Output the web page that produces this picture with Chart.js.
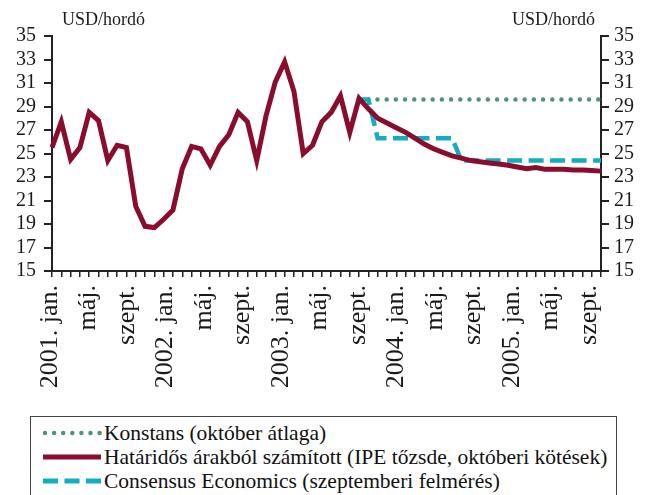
<!DOCTYPE html>
<html>
<head>
<meta charset="utf-8">
<script src="https://cdn.jsdelivr.net/npm/chart.js@4.4.0/dist/chart.umd.min.js"></script>
<style>
  html, body { margin: 0; padding: 0; background: #fff; }
  #wrap { position: relative; width: 647px; height: 495px; overflow: hidden;
          font-family: "Liberation Serif", "Times New Roman", serif; }
  #c { position: absolute; left: 0; top: 0; }
  #legend { position: absolute; left: 30px; top: 416px; width: 587px; height: 90px;
            border: 1px solid #444; box-sizing: border-box; }
  .row { position: absolute; left: 0; width: 100%; height: 24px; font-size: 21.5px;
         line-height: 24px; color: #111; }
  .row svg { position: absolute; left: 11px; top: 1px; }
  .row span { position: absolute; left: 73px; white-space: nowrap; }
</style>
</head>
<body>
<div id="wrap">
  <canvas id="c" width="647" height="412" style="width:647px;height:412px"></canvas>
  <div id="legend">
    <div class="row" style="top:4px">
      <svg width="62" height="22"><line x1="3" y1="11" x2="58" y2="11" stroke="#4e9474" stroke-width="4.5" stroke-dasharray="0 9.1" stroke-linecap="round"/></svg>
      <span>Konstans (október átlaga)</span>
    </div>
    <div class="row" style="top:28px">
      <svg width="62" height="22"><line x1="1" y1="11" x2="59" y2="11" stroke="#8a0d2e" stroke-width="5"/></svg>
      <span>Határidős árakból számított (IPE tőzsde, októberi kötések)</span>
    </div>
    <div class="row" style="top:52px">
      <svg width="62" height="22"><line x1="1" y1="11" x2="59" y2="11" stroke="#12adc5" stroke-width="5" stroke-dasharray="15 6.5"/></svg>
      <span>Consensus Economics (szeptemberi felmérés)</span>
    </div>
  </div>
</div>
<script>
// ── categories ──
var YEARS  = [2001, 2002, 2003, 2004, 2005];
var MONTHS = ['jan.', 'febr.', 'márc.', 'ápr.', 'máj.', 'jún.', 'júl.', 'aug.', 'szept.', 'okt.', 'nov.', 'dec.'];

// data axis: 2001. jan. – 2005. dec.
var dataCats = [];
YEARS.forEach(function(y) {
  MONTHS.forEach(function(m, i) { dataCats.push(i === 0 ? y + '. ' + m : m); });
});
// label axis: 2001. jan. – 2005. szept.
var labelCats = dataCats.slice(0, 57);
var LABEL_EVERY = 4;

// ── series (USD/hordó) ──
var hataridos = [
  25.5, 27.7, 24.5, 25.5, 28.5, 27.8, 24.4, 25.7, 25.5, 20.5, 18.8, 18.7,
  19.4, 20.2, 23.7, 25.6, 25.4, 24.0, 25.6, 26.6, 28.5, 27.7, 24.4, 28.2,
  31.1, 32.8, 30.3, 25.0, 25.7, 27.7, 28.5, 29.9, 26.8, 29.7, 28.8, 28.0,
  27.6, 27.2, 26.8, 26.3, 25.8, 25.4, 25.1, 24.8, 24.6, 24.4, 24.3, 24.2,
  24.1, 24.0, 23.85, 23.7, 23.8, 23.65, 23.65, 23.65, 23.6, 23.6, 23.55, 23.5
];
var konstans = [
  null, null, null, null, null, null, null, null, null, null, null, null,
  null, null, null, null, null, null, null, null, null, null, null, null,
  null, null, null, null, null, null, null, null, null, 29.6, 29.6, 29.6,
  29.6, 29.6, 29.6, 29.6, 29.6, 29.6, 29.6, 29.6, 29.6, 29.6, 29.6, 29.6,
  29.6, 29.6, 29.6, 29.6, 29.6, 29.6, 29.6, 29.6, 29.6, 29.6, 29.6, 29.6
];
var consensus = [
  null, null, null, null, null, null, null, null, null, null, null, null,
  null, null, null, null, null, null, null, null, null, null, null, null,
  null, null, null, null, null, null, null, null, null, 29.6, 29.6, 26.3,
  26.3, 26.3, 26.3, 26.3, 26.3, 26.3, 26.3, 26.3, 24.4, 24.4, 24.4, 24.4,
  24.4, 24.4, 24.4, 24.4, 24.4, 24.4, 24.4, 24.4, 24.4, 24.4, 24.4, 24.4
];

var Y_MIN = 15, Y_MAX = 35, Y_STEP = 2;
var UNIT = 'USD/hordó';

var FAMILY = '"Liberation Serif", "Times New Roman", serif';
var INK = '#1a1a1a';

var unitTitles = {
  id: 'unitTitles',
  afterDraw: function(chart) {
    var ctx = chart.ctx, a = chart.chartArea;
    ctx.save();
    ctx.font = '18px ' + FAMILY;
    ctx.fillStyle = INK;
    ctx.textBaseline = 'alphabetic';
    ctx.textAlign = 'left';
    ctx.fillText(UNIT, a.left + 10, 25);
    ctx.textAlign = 'right';
    ctx.fillText(UNIT, a.right - 6, 25);
    ctx.restore();
  }
};

var yAxis = function(pos, w, pad) {
  return {
    position: pos, min: Y_MIN, max: Y_MAX,
    ticks: { stepSize: Y_STEP, autoSkip: false, color: INK,
             font: { family: FAMILY, size: 20 }, padding: pad },
    grid: { drawOnChartArea: false, tickLength: 8, tickColor: '#222', lineWidth: 2 },
    border: { color: '#222', width: 2 },
    afterFit: function(s) { s.width = w; }
  };
};

new Chart(document.getElementById('c').getContext('2d'), {
  type: 'line',
  data: {
    labels: dataCats,
    datasets: [
      { label: 'Határidős árakból számított (IPE tőzsde, októberi kötések)',
        data: hataridos, borderColor: '#8a0d2e', borderWidth: 5,
        pointRadius: 0, tension: 0, borderJoinStyle: 'miter' },
      { label: 'Consensus Economics (szeptemberi felmérés)',
        data: consensus, borderColor: '#12adc5', borderWidth: 4.5,
        borderDash: [15, 6.5], pointRadius: 0, tension: 0 },
      { label: 'Konstans (október átlaga)',
        data: konstans, borderColor: '#4e9474', borderWidth: 4.5,
        borderDash: [0, 9.2], borderCapStyle: 'round', pointRadius: 0, tension: 0 }
    ]
  },
  options: {
    responsive: false, animation: false,
    layout: { padding: { top: 36, left: 0, right: 0, bottom: 0 } },
    plugins: { legend: { display: false }, tooltip: { enabled: false } },
    scales: {
      x: {
        type: 'category', position: 'bottom', offset: false, weight: 0,
        ticks: { display: false, autoSkip: false },
        grid: { drawOnChartArea: false, tickLength: 6, tickColor: '#222', lineWidth: 1.5 },
        border: { color: '#222', width: 2 },
        afterFit: function(s) { s.height = 7; }
      },
      xl: {
        type: 'category', position: 'bottom', labels: labelCats, offset: true, weight: 1,
        grid: { display: false, drawTicks: false },
        border: { display: false },
        ticks: {
          autoSkip: false, minRotation: 90, maxRotation: 90, padding: 7, labelOffset: -7,
          color: INK, font: { family: FAMILY, size: 26 },
          callback: function(v, i) { return i % LABEL_EVERY === 0 ? this.getLabelForValue(v) : ''; }
        },
        afterFit: function(s) { s.height = 412 - 271 - 7; }
      },
      y: yAxis('left', 52, 8),
      y2: yAxis('right', 46, 5)
    }
  },
  plugins: [unitTitles]
});
</script>
</body>
</html>
